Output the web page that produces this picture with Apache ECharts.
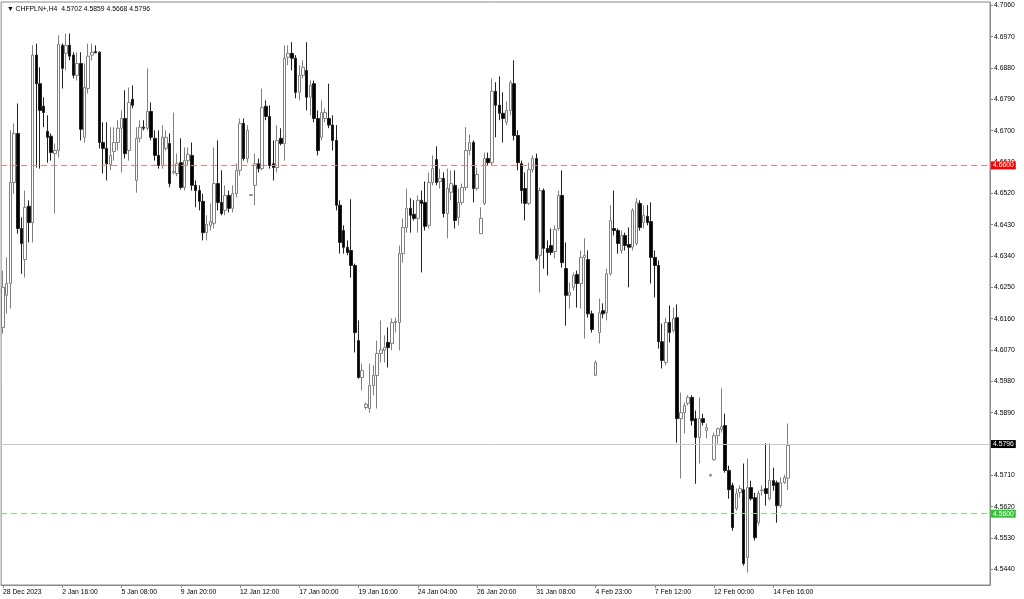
<!DOCTYPE html>
<html>
<head>
<meta charset="utf-8">
<script src="https://cdn.jsdelivr.net/npm/echarts@6/dist/echarts.min.js"></script>
<style>
html,body{margin:0;padding:0;background:#fff;}
#chart{width:1024px;height:599px;}
</style>
</head>
<body>
<div id="chart"></div>
<script>
const symbolName = 'CHFPLN+,H4';
const tickLabels = ['28 Dec 2023','2 Jan 16:00','5 Jan 08:00','9 Jan 20:00','12 Jan 12:00','17 Jan 00:00','19 Jan 16:00','24 Jan 04:00','26 Jan 20:00','31 Jan 08:00','4 Feb 23:00','7 Feb 12:00','12 Feb 00:00','14 Feb 16:00'];
const barsPerLabel = 16;
const totalSlots = 267;
const yTicks = [4.5440,4.5530,4.5620,4.5710,4.5800,4.5890,4.5980,4.6070,4.6160,4.6250,4.6340,4.6430,4.6520,4.6610,4.6700,4.6790,4.6880,4.6970,4.7060];
const levelRed = 4.6600;
const levelGreen = 4.5600;

const open = [
4.6135,4.6227,4.6261,4.6551,4.6692,4.6419,4.6330,4.6483,4.6436,4.6917,
4.6835,4.6770,4.6698,4.6684,4.6634,4.6643,4.6945,4.6922,4.6945,4.6917,
4.6859,4.6893,4.6681,4.6821,4.6917,4.6927,4.6925,4.6666,4.6649,4.6603,
4.6640,4.6666,4.6707,4.6735,4.6643,4.6790,4.6557,4.6678,4.6710,4.6707,
4.6755,4.6678,4.6629,4.6600,4.6649,4.6663,4.6580,4.6577,4.6608,4.6537,
4.6614,4.6629,4.6543,4.6528,4.6497,4.6407,4.6428,4.6434,4.6548,4.6494,
4.6471,4.6514,4.6477,4.6519,4.6586,4.6721,4.6620,4.6514,4.6543,4.6605,
4.6591,4.6770,4.6741,4.6605,4.6594,4.6678,4.6663,4.6911,4.6922,4.6908,
4.6810,4.6859,4.6873,4.6796,4.6835,4.6735,4.6681,4.6735,4.6735,4.6716,
4.6672,4.6486,4.6413,4.6365,4.6356,4.6313,4.6097,4.5991,4.5905,4.5902,
4.5968,4.5997,4.6060,4.6069,4.6092,4.6089,4.6149,4.6149,4.6347,4.6422,
4.6477,4.6460,4.6448,4.6500,4.6494,4.6428,4.6551,4.6617,4.6554,4.6563,
4.6462,4.6523,4.6543,4.6451,4.6494,4.6537,4.6643,4.6666,4.6534,4.6404,
4.6491,4.6620,4.6608,4.6813,4.6773,4.6750,4.6724,4.6758,4.6835,4.6686,
4.6605,4.6534,4.6491,4.6588,4.6620,4.6342,4.6528,4.6362,4.6370,4.6353,
4.6419,4.6514,4.6304,4.6227,4.6250,4.6287,4.6261,4.6336,4.6330,4.6174,
4.5997,4.6120,4.6183,4.6177,4.6289,4.6419,4.6413,4.6356,4.6399,4.6373,
4.6365,4.6376,4.6491,4.6436,4.6454,4.6439,4.6336,4.6313,4.6094,4.6034,
4.6149,4.6126,4.6163,4.5873,4.5890,4.5917,4.5934,4.5873,4.5819,4.5873,
4.5839,4.5709,4.5755,4.5824,4.5842,4.5853,4.5724,4.5681,4.5615,4.5661,
4.5669,4.5474,4.5675,4.5646,4.5574,4.5666,4.5672,4.5643,4.5695,4.5689,
4.5623,4.5689,4.5702
];
const close = [
4.6250,4.6261,4.6551,4.6692,4.6419,4.6376,4.6480,4.6436,4.6917,4.6835,
4.6758,4.6752,4.6681,4.6637,4.6643,4.6948,4.6879,4.6945,4.6914,4.6859,
4.6893,4.6704,4.6824,4.6914,4.6925,4.6924,4.6666,4.6649,4.6605,4.6629,
4.6666,4.6707,4.6735,4.6634,4.6781,4.6773,4.6678,4.6710,4.6707,4.6755,
4.6681,4.6629,4.6600,4.6681,4.6681,4.6548,4.6583,4.6605,4.6537,4.6614,
4.6632,4.6543,4.6528,4.6497,4.6407,4.6431,4.6439,4.6548,4.6494,4.6462,
4.6514,4.6477,4.6519,4.6586,4.6721,4.6620,4.6701,4.6516,4.6605,4.6591,
4.6767,4.6741,4.6600,4.6594,4.6672,4.6663,4.6908,4.6922,4.6908,4.6810,
4.6859,4.6882,4.6796,4.6830,4.6735,4.6643,4.6752,4.6752,4.6716,4.6672,
4.6486,4.6379,4.6365,4.6350,4.6313,4.6120,4.5991,4.6011,4.5914,4.5968,
4.5997,4.6060,4.6071,4.6077,4.6077,4.6149,4.6152,4.6347,4.6422,4.6477,
4.6457,4.6448,4.6500,4.6491,4.6425,4.6551,4.6591,4.6551,4.6563,4.6462,
4.6534,4.6548,4.6442,4.6494,4.6537,4.6643,4.6666,4.6534,4.6574,4.6448,
4.6620,4.6608,4.6813,4.6773,4.6750,4.6735,4.6758,4.6838,4.6686,4.6608,
4.6528,4.6491,4.6588,4.6620,4.6333,4.6528,4.6362,4.6350,4.6350,4.6416,
4.6514,4.6321,4.6227,4.6235,4.6284,4.6261,4.6336,4.6342,4.6174,4.6129,
4.6034,4.6177,4.6174,4.6289,4.6442,4.6413,4.6376,4.6399,4.6370,4.6365,
4.6471,4.6494,4.6422,4.6457,4.6436,4.6336,4.6313,4.6094,4.6040,4.6149,
4.6120,4.6161,4.5873,4.5890,4.5911,4.5934,4.5867,4.5819,4.5873,4.5862,
4.5847,4.5712,4.5824,4.5844,4.5850,4.5724,4.5669,4.5560,4.5658,4.5672,
4.5457,4.5675,4.5643,4.5531,4.5658,4.5668,4.5658,4.5695,4.5681,4.5623,
4.5689,4.5704,4.5796
];
const high = [
4.6298,4.6336,4.6701,4.6721,4.6778,4.6451,4.6528,4.6500,4.6945,4.6950,
4.6882,4.6796,4.6744,4.6692,4.6663,4.6974,4.6950,4.6979,4.6979,4.6925,
4.6925,4.6925,4.6893,4.6950,4.6950,4.6945,4.6928,4.6724,4.6724,4.6710,
4.6710,4.6730,4.6758,4.6816,4.6824,4.6830,4.6710,4.6730,4.6730,4.6879,
4.6781,4.6701,4.6701,4.6716,4.6701,4.6692,4.6752,4.6634,4.6678,4.6652,
4.6652,4.6666,4.6557,4.6543,4.6519,4.6457,4.6491,4.6652,4.6672,4.6586,
4.6543,4.6528,4.6543,4.6606,4.6735,4.6735,4.6716,4.6517,4.6634,4.6620,
4.6821,4.6787,4.6773,4.6672,4.6716,4.6707,4.6945,4.6945,4.6954,4.6917,
4.6888,4.6902,4.6954,4.6844,4.6844,4.6758,4.6787,4.6764,4.6835,4.6744,
4.6716,4.6500,4.6428,4.6385,4.6503,4.6318,4.6155,4.6031,4.5919,4.6031,
4.6026,4.6097,4.6155,4.6112,4.6135,4.6161,4.6163,4.6370,4.6448,4.6534,
4.6506,4.6500,4.6514,4.6528,4.6554,4.6580,4.6629,4.6655,4.6591,4.6580,
4.6591,4.6586,4.6586,4.6534,4.6548,4.6710,4.6689,4.6672,4.6594,4.6480,
4.6637,4.6637,4.6850,4.6839,4.6856,4.6810,4.6784,4.6844,4.6902,4.6701,
4.6614,4.6580,4.6608,4.6629,4.6634,4.6537,4.6534,4.6385,4.6419,4.6428,
4.6528,4.6586,4.6379,4.6264,4.6293,4.6298,4.6356,4.6391,4.6356,4.6183,
4.6040,4.6218,4.6204,4.6304,4.6486,4.6528,4.6419,4.6413,4.6407,4.6422,
4.6477,4.6506,4.6500,4.6486,4.6486,4.6494,4.6356,4.6327,4.6146,4.6163,
4.6198,4.6192,4.6201,4.5948,4.5919,4.5940,4.5940,4.5896,4.5934,4.5887,
4.5859,4.5715,4.5833,4.5847,4.5960,4.5887,4.5738,4.5689,4.5672,4.5681,
4.5744,4.5758,4.5695,4.5660,4.5666,4.5681,4.5802,4.5802,4.5732,4.5695,
4.5704,4.5712,4.5859
];
const low = [
4.6117,4.6174,4.6189,4.6519,4.6404,4.6289,4.6278,4.6379,4.6379,4.6594,
4.6591,4.6710,4.6608,4.6614,4.6462,4.6623,4.6821,4.6873,4.6902,4.6850,
4.6844,4.6672,4.6666,4.6807,4.6902,4.6922,4.6649,4.6577,4.6557,4.6586,
4.6614,4.6643,4.6580,4.6620,4.6614,4.6764,4.6522,4.6666,4.6701,4.6701,
4.6672,4.6614,4.6591,4.6591,4.6643,4.6537,4.6574,4.6569,4.6531,4.6528,
4.6600,4.6528,4.6480,4.6471,4.6385,4.6385,4.6413,4.6419,4.6471,4.6457,
4.6457,4.6465,4.6465,4.6508,4.6571,4.6614,4.6608,4.6512,4.6486,4.6580,
4.6586,4.6730,4.6591,4.6557,4.6580,4.6658,4.6614,4.6888,4.6873,4.6793,
4.6787,4.6850,4.6758,4.6744,4.6724,4.6629,4.6672,4.6724,4.6707,4.6643,
4.6471,4.6347,4.6347,4.6342,4.6278,4.6063,4.5988,4.5954,4.5899,4.5890,
4.5940,4.5902,4.6034,4.6034,4.6020,4.6069,4.6120,4.6069,4.6321,4.6407,
4.6407,4.6442,4.6407,4.6293,4.6413,4.6419,4.6543,4.6543,4.6534,4.6451,
4.6391,4.6500,4.6419,4.6428,4.6486,4.6528,4.6629,4.6494,4.6528,4.6404,
4.6486,4.6600,4.6600,4.6681,4.6730,4.6666,4.6716,4.6744,4.6672,4.6586,
4.6491,4.6442,4.6486,4.6580,4.6327,4.6235,4.6304,4.6284,4.6342,4.6333,
4.6413,4.6307,4.6140,4.6189,4.6241,4.6192,4.6189,4.6103,4.6163,4.6120,
4.5997,4.6089,4.6161,4.6155,4.6284,4.6399,4.6347,4.6347,4.6356,4.6250,
4.6356,4.6370,4.6413,4.6419,4.6428,4.6261,4.6221,4.6074,4.6017,4.6026,
4.6092,4.6120,4.5804,4.5701,4.5830,4.5911,4.5853,4.5686,4.5744,4.5853,
4.5816,4.5706,4.5752,4.5801,4.5833,4.5718,4.5643,4.5551,4.5609,4.5646,
4.5451,4.5431,4.5638,4.5523,4.5566,4.5652,4.5623,4.5638,4.5666,4.5574,
4.5617,4.5686,4.5668
];

const categories = [];
for (let i = 0; i < totalSlots; i++) {
  categories.push(i % barsPerLabel === 0 && (i / barsPerLabel) < tickLabels.length ? tickLabels[i / barsPerLabel] : '');
}
const candles = open.map((o, i) => [o, close[i], low[i], high[i]]);
const last = open.length - 1;
const lastClose = close[last];
const headerText = '\u25BC ' + symbolName + '  ' + open[last].toFixed(4) + ' ' + high[last].toFixed(4) + ' ' + low[last].toFixed(4) + ' ' + close[last].toFixed(4);
const showTick = (idx) => idx % barsPerLabel === 0 && (idx / barsPerLabel) < tickLabels.length;
const FONT = 'Liberation Sans';
const FS = 6.8;

const chart = echarts.init(document.getElementById('chart'), null, {renderer: 'canvas'});
chart.setOption({
  animation: false,
  backgroundColor: '#ffffff',
  title: {
    text: headerText, left: 2, top: 1,
    textStyle: {fontSize: FS, fontWeight: 'normal', color: '#000', fontFamily: FONT}
  },
  grid: {left: 0, right: 34, top: 2, bottom: 14, show: true, borderColor: '#8a8a8a', borderWidth: 1},
  xAxis: {
    type: 'category', data: categories, boundaryGap: true,
    axisLine: {lineStyle: {color: '#8a8a8a'}},
    axisTick: {show: true, alignWithLabel: true, interval: (i) => showTick(i), length: 3, lineStyle: {color: '#8a8a8a'}},
    axisLabel: {interval: (i) => showTick(i), align: 'left', fontSize: FS, color: '#000', fontFamily: FONT, margin: 4},
    splitLine: {show: false}
  },
  yAxis: {
    type: 'value', position: 'right', min: 4.53952, max: 4.70695,
    axisLine: {show: true, lineStyle: {color: '#8a8a8a'}},
    axisTick: {show: true, length: 3, customValues: yTicks, lineStyle: {color: '#8a8a8a'}},
    axisLabel: {customValues: yTicks, formatter: (v) => v.toFixed(4), fontSize: FS, color: '#000', fontFamily: FONT, margin: 4},
    splitLine: {show: false}
  },
  series: [{
    type: 'candlestick',
    data: candles,
    barWidth: 3,
    itemStyle: {color: '#ffffff', color0: '#000000', borderColor: '#808080', borderColor0: '#222222', borderWidth: 1},
    markLine: {
      silent: true, symbol: ['none', 'none'], animation: false,
      label: {position: 'end', distance: 1, fontSize: FS, fontFamily: FONT, color: '#fff', padding: [1, 2, 0, 2]},
      data: [
        {yAxis: levelRed, lineStyle: {color: '#e88080', type: [6, 4], width: 1},
         label: {formatter: levelRed.toFixed(4), backgroundColor: '#ff0000'}},
        {yAxis: levelGreen, lineStyle: {color: '#8fd08f', type: [6, 4], width: 1},
         label: {formatter: levelGreen.toFixed(4), backgroundColor: '#2ec82e'}},
        {yAxis: lastClose, lineStyle: {color: '#c8c8c8', type: 'solid', width: 1},
         label: {formatter: lastClose.toFixed(4), backgroundColor: '#000000'}}
      ]
    }
  }]
});
</script>
</body>
</html>
